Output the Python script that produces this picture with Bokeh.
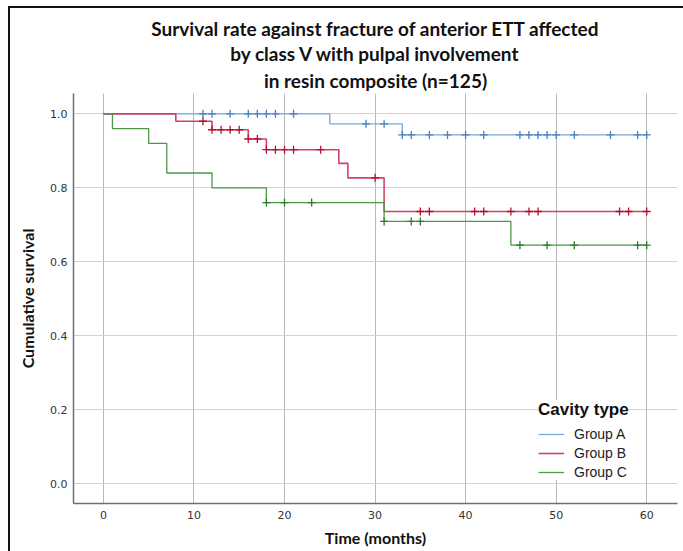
from bokeh.plotting import figure
from bokeh.models import Range1d, FixedTicker, Title, Legend, LegendItem, NumeralTickFormatter
from bokeh.embed import file_html
from bokeh.resources import INLINE

# ---- data ----
title_lines = ["Survival rate against fracture of anterior ETT affected",
               "by class V with pulpal involvement",
               "in resin composite (n=125)"]
x_ticks = [0, 10, 20, 30, 40, 50, 60]
y_ticks = [0.0, 0.2, 0.4, 0.6, 0.8, 1.0]
groups = ["Group A", "Group B", "Group C"]

a_time = [0, 25, 33, 60]
a_surv = [1.0, 0.973, 0.943, 0.943]
a_cens = [11, 12, 14, 16, 17, 18, 19, 21, 29, 31, 33, 34, 36, 38, 40, 42,
          46, 47, 48, 49, 50, 52, 56, 59, 60]

b_time = [0, 8, 12, 16, 18, 26, 27, 31, 60]
b_surv = [1.0, 0.980, 0.957, 0.932, 0.903, 0.866, 0.827, 0.736, 0.736]
b_cens = [11, 12, 13, 14, 15, 16, 17, 18, 19, 20, 21, 24, 30, 35, 36, 41, 42,
          45, 47, 48, 57, 58, 60]

c_time = [0, 1, 5, 7, 12, 18, 31, 45, 60]
c_surv = [1.0, 0.96, 0.92, 0.84, 0.80, 0.76, 0.709, 0.645, 0.645]
c_cens = [18, 20, 23, 31, 34, 35, 46, 49, 52, 59, 60]


def level_at(times, surv, t):
    val = surv[0]
    for tt, s in zip(times, surv):
        if tt <= t:
            val = s
    return val


p = figure(width=683, height=551, output_backend="svg", toolbar_location=None,
           x_range=Range1d(-3.3, 63.4), y_range=Range1d(-0.0535, 1.055),
           min_border_left=73, min_border_right=6, min_border_top=93,
           min_border_bottom=48)
p.border_fill_color = None
p.background_fill_color = "white"
p.outline_line_color = None
p.styles = {
    "background": "linear-gradient(#111,#111) 8px 6px / 2px 100% no-repeat, "
                  "linear-gradient(#111,#111) 8px 6px / 100% 2px no-repeat, white"
}

for i, line in enumerate(reversed(title_lines)):
    t = Title(text=line, align="center", text_font="Lato", text_font_style="bold",
              text_font_size="19px", text_color="#111111",
              standoff=(4 if i == 0 else 0))
    p.add_layout(t, "above")

p.xaxis.ticker = FixedTicker(ticks=x_ticks)
p.yaxis.ticker = FixedTicker(ticks=y_ticks)
p.yaxis.formatter = NumeralTickFormatter(format="0.0")
for ax in (p.xaxis[0], p.yaxis[0]):
    ax.major_tick_out = 0
    ax.major_tick_in = 0
    ax.minor_tick_out = 0
    ax.minor_tick_in = 0
    ax.axis_line_color = "#707070"
    ax.axis_line_width = 1.5
    ax.major_label_text_font = "DejaVu Sans"
    ax.major_label_text_font_size = "11px"
    ax.major_label_text_color = "#333333"
    ax.axis_label_text_font = "Lato"
    ax.axis_label_text_font_style = "bold"
    ax.axis_label_text_font_size = "16px"
    ax.axis_label_text_color = "#111111"
p.xaxis.axis_label = "Time (months)"
p.yaxis.axis_label = "Cumulative survival"
p.xaxis.major_label_standoff = 7
p.xaxis.axis_label_standoff = 6
p.yaxis.major_label_standoff = 6
p.yaxis.axis_label_standoff = 10

p.xgrid.grid_line_color = "#b8b8b8"
p.ygrid.grid_line_color = "#d2d2d2"

specs = [
    (a_time, a_surv, a_cens, "#7ba7dd", "#4a7fc4", 1.3),
    (b_time, b_surv, b_cens, "#d04468", "#b3102f", 1.6),
    (c_time, c_surv, c_cens, "#4f9848", "#2e7a2c", 1.3),
]
renderers = []
for times, surv, cens, lc, mc, lw in specs:
    r = p.step(times, surv, mode="after", line_color=lc, line_width=lw)
    cy = [level_at(times, surv, t) for t in cens]
    p.scatter(cens, cy, marker="cross", size=8, line_color=mc, line_width=1.3)
    renderers.append(r)

legend = Legend(items=[LegendItem(label=g, renderers=[r]) for g, r in zip(groups, renderers)],
                title="Cavity type", location=(465, 23),
                title_text_font="Liberation Sans", title_text_font_style="bold",
                title_text_font_size="17px", title_text_color="#111111",
                label_text_font="Liberation Sans", label_text_font_size="14px",
                label_text_color="#222222", border_line_color=None,
                background_fill_color="white", background_fill_alpha=1,
                glyph_width=26, glyph_height=16, label_height=16, spacing=3,
                label_standoff=10, padding=6, title_standoff=6)
p.add_layout(legend)

open("out.html", "w").write(file_html(p, INLINE))
